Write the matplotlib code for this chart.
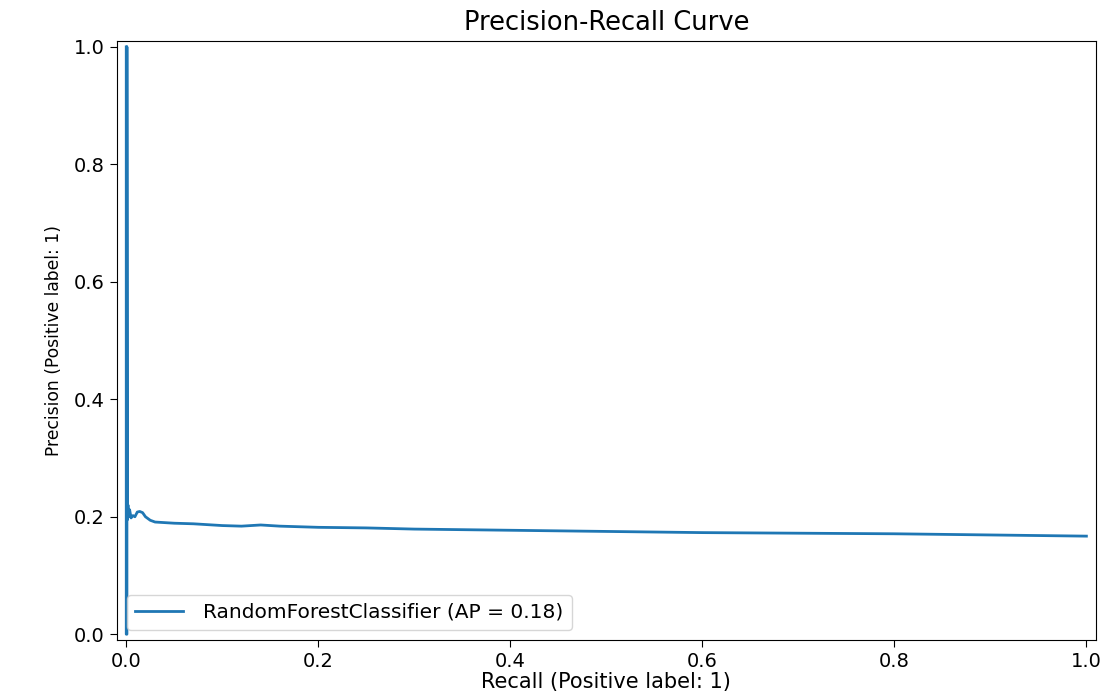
import matplotlib
matplotlib.use("Agg")
import matplotlib.pyplot as plt

# precision / recall points (ascending recall)
recall = [0.0, 0.0, 0.0007, 0.0007, 0.0012, 0.0018, 0.0025, 0.0035, 0.005, 0.007,
          0.009, 0.0115, 0.014, 0.017, 0.02, 0.025, 0.03, 0.04, 0.05, 0.07,
          0.1, 0.12, 0.14, 0.16, 0.2, 0.25, 0.3, 0.4, 0.5, 0.6, 0.7, 0.8, 0.9, 1.0]
precision = [1.0, 0.0, 0.0, 1.0, 0.195, 0.22, 0.2, 0.212, 0.198, 0.202,
             0.2, 0.208, 0.209, 0.207, 0.2, 0.194, 0.191, 0.19, 0.189, 0.188,
             0.185, 0.184, 0.186, 0.184, 0.182, 0.181, 0.179, 0.177, 0.175, 0.173, 0.172, 0.171, 0.169, 0.167]
ap = 0.18
model_name = "RandomForestClassifier"

fig = plt.figure(figsize=(11.11, 6.95), dpi=100)
ax = fig.add_axes([0.105, 0.079, 0.8815, 0.862])

ax.plot(recall, precision, color="#1f77b4", lw=2,
        label="%s (AP = %.2f)" % (model_name, ap))

ax.set_xlim(-0.01, 1.01)
ax.set_ylim(-0.01, 1.01)
ax.tick_params(labelsize=14, length=5)
ax.set_xlabel("Recall (Positive label: 1)", fontsize=15, labelpad=1)
ax.set_ylabel("Precision (Positive label: 1)", fontsize=12.3, labelpad=8)
ax.set_title("Precision-Recall Curve", fontsize=18.5, pad=8)
ax.legend(loc="lower left", fontsize=14.5, handlelength=2.4, handletextpad=1.0)

fig.savefig("out.png", dpi=100)
